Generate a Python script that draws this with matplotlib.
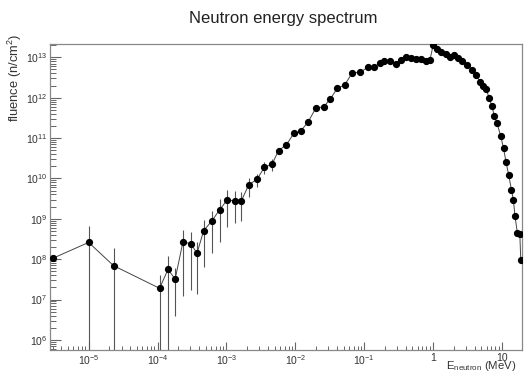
import matplotlib
matplotlib.use("Agg")
import matplotlib.pyplot as plt
from matplotlib.ticker import LogLocator, FixedLocator, FixedFormatter, NullFormatter
import numpy as np

plt.rcParams['font.family'] = ['Liberation Sans', 'DejaVu Sans']
plt.rcParams['mathtext.fontset'] = 'custom'
plt.rcParams['mathtext.rm'] = 'Liberation Sans'
plt.rcParams['mathtext.it'] = 'Liberation Sans'

# Neutron energy (MeV), fluence (n/cm^2) and its error
energy = np.array([
    3.05e-6, 1.0e-5, 2.3e-5, 1.07e-4, 1.42e-4, 1.8e-4, 2.34e-4, 3.05e-4, 3.74e-4,
    4.67e-4, 6.1e-4, 7.96e-4, 1.02e-3, 1.35e-3, 1.65e-3, 2.1e-3, 2.79e-3, 3.56e-3,
    4.6e-3, 5.7e-3, 7.4e-3, 9.5e-3, 1.2e-2, 1.53e-2, 1.98e-2, 2.6e-2, 3.2e-2,
    4.05e-2, 5.2e-2, 6.7e-2, 8.8e-2, 0.114, 0.138, 0.169, 0.193, 0.236, 0.285,
    0.337, 0.398, 0.471, 0.557, 0.658, 0.778, 0.90,
    1.0, 1.15, 1.31, 1.52, 1.75, 2.0, 2.29, 2.65, 3.14, 3.7, 4.15, 4.8, 5.36,
    5.9, 6.5, 7.1, 7.7, 8.4, 9.6, 10.5, 11.4, 12.5, 13.7, 14.6, 15.4, 16.7,
    18.1, 18.7,
])
fluence = np.array([
    1.06e8, 2.6e8, 6.9e7, 1.9e7, 5.6e7, 3.2e7, 2.7e8, 2.4e8, 1.4e8,
    5.1e8, 8.7e8, 1.67e9, 2.9e9, 2.8e9, 2.8e9, 6.9e9, 9.6e9, 1.9e10,
    2.26e10, 4.9e10, 6.8e10, 1.3e11, 1.5e11, 2.5e11, 5.5e11, 6.0e11, 9.2e11,
    1.7e12, 2.08e12, 4.1e12, 4.3e12, 5.7e12, 5.6e12, 7.2e12, 7.9e12, 8.3e12, 6.9e12,
    8.7e12, 1.01e13, 9.6e12, 9.2e12, 9.0e12, 7.9e12, 8.7e12,
    2.0e13, 1.6e13, 1.39e13, 1.22e13, 1.01e13, 1.15e13, 9.5e12, 8.3e12, 6.5e12,
    4.9e12, 3.7e12, 2.5e12, 1.9e12,
    1.63e12, 9.7e11, 6.3e11, 3.6e11, 2.4e11, 1.1e11, 5.6e10, 2.6e10, 1.2e10,
    5.2e9, 2.95e9, 1.18e9, 4.4e8,
    4.2e8, 9.6e7,
])
fluence_err = np.array([
    1.0e6, 3.9e8, 1.2e8, 2.2e7, 6.4e7, 2.8e7, 2.58e8, 2.23e8, 1.26e8,
    4.47e8, 7.3e8, 1.4e9, 2.26e9, 2.0e9, 1.9e9, 3.5e9, 3.5e9, 6.0e9,
    7.0e9, 8.0e9, 1.0e10, 1.5e10, 1.5e10, 2.0e10, 3.0e10, 3.0e10, 4.0e10,
    6.0e10, 6.0e10, 1.0e11, 1.0e11, 1.2e11, 1.2e11, 1.4e11, 1.5e11, 1.5e11, 1.3e11,
    1.5e11, 1.7e11, 1.6e11, 1.6e11, 1.5e11, 1.4e11, 1.5e11,
    3.0e11, 2.5e11, 2.2e11, 2.0e11, 1.7e11, 1.9e11, 1.6e11, 1.4e11, 1.1e11,
    9.0e10, 7.0e10, 5.0e10, 4.0e10,
    3.5e10, 2.2e10, 1.5e10, 9.0e9, 6.0e9, 3.0e9, 1.6e9, 8.0e8, 4.0e8,
    2.0e8, 1.2e8, 5.0e7, 2.0e7,
    2.0e7, 5.0e6,
])

x_ticks = [1e-5, 1e-4, 1e-3, 1e-2, 1e-1, 1, 10]
x_labels = [r'$10^{-5}$', r'$10^{-4}$', r'$10^{-3}$', r'$10^{-2}$', r'$10^{-1}$', '1', '10']
y_ticks = [1e6, 1e7, 1e8, 1e9, 1e10, 1e11, 1e12, 1e13]
y_labels = [r'$10^{%d}$' % k for k in range(6, 14)]

fig = plt.figure(figsize=(5.28, 3.79), dpi=100)
ax = fig.add_axes([0.0947, 0.0765, 0.894, 0.8074])

# errors larger than the value run off the bottom of the log axis
err_low = np.minimum(fluence_err, fluence * 0.999)
ax.errorbar(energy, fluence, yerr=[err_low, fluence_err], fmt='none',
            ecolor='#555555', elinewidth=0.8, capsize=0, zorder=2)
ax.plot(energy, fluence, color='#444444', lw=0.7, zorder=3)
ax.plot(energy, fluence, 'o', color='black', ms=4.2, zorder=4)

ax.set_xscale('log')
ax.set_yscale('log')
ax.set_xlim(2.75e-6, 19.5)
ax.set_ylim(10**5.75, 10**13.33)

ax.xaxis.set_major_locator(FixedLocator(x_ticks))
ax.xaxis.set_major_formatter(FixedFormatter(x_labels))
ax.xaxis.set_minor_locator(LogLocator(base=10, subs=np.arange(2, 10), numticks=20))
ax.xaxis.set_minor_formatter(NullFormatter())
ax.yaxis.set_major_locator(FixedLocator(y_ticks))
ax.yaxis.set_major_formatter(FixedFormatter(y_labels))
ax.yaxis.set_minor_locator(LogLocator(base=10, subs=np.arange(2, 10), numticks=20))
ax.yaxis.set_minor_formatter(NullFormatter())

ax.tick_params(which='both', direction='in', colors='#666666', labelcolor='#333333',
               labelsize=7.5, top=False, right=False)
ax.tick_params(axis='x', which='major', length=6, width=0.8, pad=2)
ax.tick_params(axis='x', which='minor', length=3, width=0.7)
ax.tick_params(axis='y', which='major', length=8, width=0.8, pad=2)
ax.tick_params(axis='y', which='minor', length=4, width=0.7)
for s in ax.spines.values():
    s.set_color('#888888')
    s.set_linewidth(0.9)

fig.text(0.536, 0.952, 'Neutron energy spectrum', ha='center', va='center',
         fontsize=12, color='#222222')
fig.text(0.029, 0.91, 'fluence (n/cm$^{2}$)', rotation=90, ha='center', va='top',
         fontsize=9.3, color='#333333')
fig.text(0.978, 0.034, r'E$_{\mathrm{neutron}}$ (MeV)', ha='right', va='center',
         fontsize=8.2, color='#333333')

fig.savefig('out.png', dpi=100)
